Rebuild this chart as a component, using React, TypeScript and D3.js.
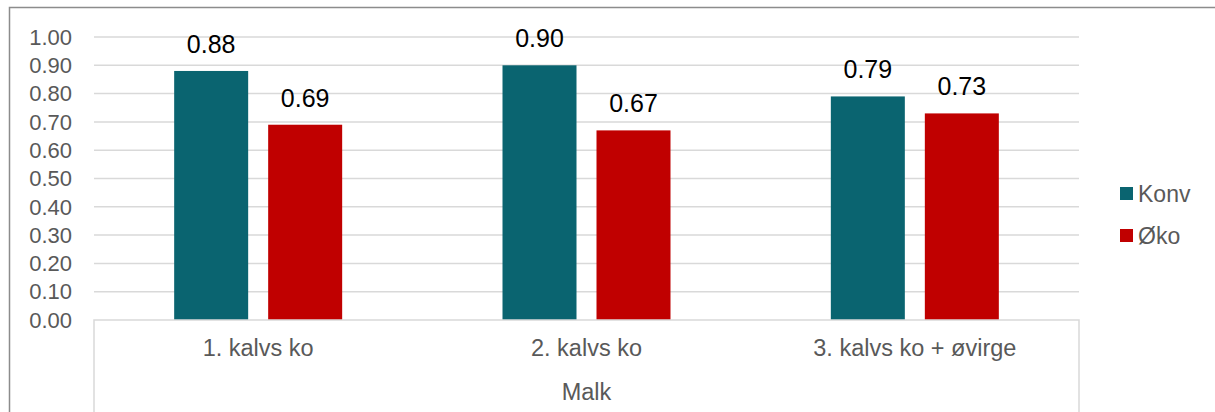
import { useMemo } from "react";
import { scaleBand, scaleLinear, range } from "d3";

const categories = ["1. kalvs ko", "2. kalvs ko", "3. kalvs ko + øvirge"];
const seriesNames = ["Konv", "Øko"];
const konvValues = [0.88, 0.9, 0.79];
const okoValues = [0.69, 0.67, 0.73];
const seriesColors = ["#0a6470", "#c00000"];
const groupLabel = "Malk";
const yTicks = range(0, 11).map((i) => i / 10);

const W = 1215;
const H = 412;
const FONT = "'Liberation Sans', Arial, sans-serif";
const TEXT = "#595959";
const GRID = "#d9d9d9";

export default function App() {
  const plot = { left: 94, right: 1079, top: 37, bottom: 320 };

  const x0 = useMemo(
    () => scaleBand<string>().domain(categories).range([plot.left, plot.right]).padding(0),
    []
  );
  const x1 = useMemo(() => {
    const bw = x0.bandwidth();
    const step = 94;
    const pi = 20 / step;
    const po = (bw / step - 2 + pi) / 2;
    return scaleBand<string>().domain(seriesNames).range([0, bw]).paddingInner(pi).paddingOuter(po);
  }, [x0]);
  const y = useMemo(() => scaleLinear().domain([0, 1]).range([plot.bottom, plot.top]), []);

  const series = [konvValues, okoValues];

  return (
    <svg
      width={W}
      height={H}
      style={{ position: "absolute", left: 0, top: 0, background: "#fff" }}
      fontFamily={FONT}
    >
      <rect x={0} y={0} width={W} height={H} fill="#fff" />
      {/* outer chart border */}
      <path d={`M9.5,${H + 5} V7.5 H${W + 5}`} fill="none" stroke="#8c8c8c" strokeWidth={1.5} />

      {/* gridlines */}
      {yTicks.slice(1).map((t) => (
        <line key={t} x1={plot.left} x2={plot.right} y1={y(t)} y2={y(t)} stroke={GRID} strokeWidth={1.5} />
      ))}

      {/* y tick labels */}
      {yTicks.map((t) => (
        <text
          key={t}
          x={72}
          y={y(t)}
          dy="0.35em"
          textAnchor="end"
          fontSize={22}
          fill={TEXT}
        >
          {t.toFixed(2)}
        </text>
      ))}

      {/* bars */}
      {categories.map((c, ci) =>
        seriesNames.map((s, si) => {
          const v = series[si][ci];
          const bx = (x0(c) ?? 0) + (x1(s) ?? 0);
          return (
            <g key={c + s}>
              <rect
                x={bx}
                y={y(v)}
                width={x1.bandwidth()}
                height={y(0) - y(v)}
                fill={seriesColors[si]}
              />
              <text
                x={bx + x1.bandwidth() / 2}
                y={y(v) - 18}
                textAnchor="middle"
                fontSize={25}
                fill="#000"
              >
                {v.toFixed(2)}
              </text>
            </g>
          );
        })
      )}

      {/* category axis box */}
      <path
        d={`M${plot.left},${H + 5} V${plot.bottom} H${plot.right} V${H + 5}`}
        fill="none"
        stroke={GRID}
        strokeWidth={1.5}
      />
      {categories.map((c) => (
        <text
          key={c}
          x={(x0(c) ?? 0) + x0.bandwidth() / 2}
          y={356}
          textAnchor="middle"
          fontSize={23.5}
          fill={TEXT}
        >
          {c}
        </text>
      ))}
      <text x={(plot.left + plot.right) / 2} y={400} textAnchor="middle" fontSize={23.5} fill={TEXT}>
        {groupLabel}
      </text>

      {/* legend */}
      {seriesNames.map((s, i) => (
        <g key={s} transform={`translate(1120, ${187 + i * 42})`}>
          <rect x={0} y={0} width={13} height={13} fill={seriesColors[i]} />
          <text x={18} y={6.5} dy="0.35em" fontSize={23} fill={TEXT}>
            {s}
          </text>
        </g>
      ))}
    </svg>
  );
}
